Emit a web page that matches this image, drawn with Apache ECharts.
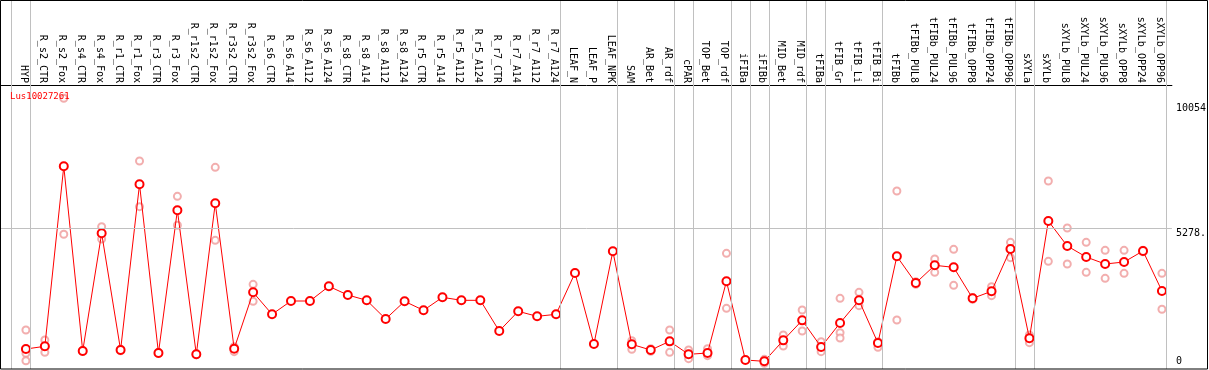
<!DOCTYPE html>
<html>
<head>
<meta charset="utf-8">
<script src="https://cdn.jsdelivr.net/npm/echarts@6/dist/echarts.min.js"></script>
<style>
html,body{margin:0;padding:0;background:#fff;}
#chart{width:1209px;height:370px;}
</style>
</head>
<body>
<div id="chart"></div>
<script>
const title = 'Lus10027261';
const categories = ['HYP','R_s2_CTR','R_s2_Fox','R_s4_CTR','R_s4_Fox','R_r1_CTR','R_r1_Fox','R_r3_CTR','R_r3_Fox','R_r1s2_CTR','R_r1s2_Fox','R_r3s2_CTR','R_r3s2_Fox','R_s6_CTR','R_s6_A14','R_s6_A112','R_s6_A124','R_s8_CTR','R_s8_A14','R_s8_A112','R_s8_A124','R_r5_CTR','R_r5_A14','R_r5_A112','R_r5_A124','R_r7_CTR','R_r7_A14','R_r7_A112','R_r7_A124','LEAF_N','LEAF_P','LEAF_NPK','SAM','AR_Bet','AR_rdf','cPAR','TOP_Bet','TOP_rdf','iFIBa','iFIBb','MID_Bet','MID_rdf','tFIBa','tFIB_Gr','tFIB_Li','tFIB_Bi','tFIBb','tFIBb_PUL8','tFIBb_PUL24','tFIBb_PUL96','tFIBb_OPP8','tFIBb_OPP24','tFIBb_OPP96','sXYLa','sXYLb','sXYLb_PUL8','sXYLb_PUL24','sXYLb_PUL96','sXYLb_OPP8','sXYLb_OPP24','sXYLb_OPP96'];
const means = [686,789,7648,610,5094,648,6962,534,5971,483,6238,699,2846,2008,2515,2515,3075,2744,2541,1829,2503,2160,2655,2541,2541,1372,2122,1931,2008,3582,877,4408,864,648,978,483,534,3265,267,216,1016,1778,762,1677,2541,915,4218,3201,3875,3799,2617,2884,4497,1093,5564,4611,4192,3925,4002,4421,2896];
const replicates = [[1410,522,240],[1029,560,780],[10240,5057],[630,590],[5348,4878],[680,620],[7851,6110],[560,510],[6505,5400],[500,465],[7610,4828],[775,584],[3151,2503],
[],[],[],[],[],[],[],[],[],[],[],[],[],[],[],[],[],[],[],
[1004,673],[700,600],[1410,560],[648,318],[699,432],[4332,2236],[],[292,140],[1220,800],[2172,1372],[965,584],[2617,1308,1105],[2846,2338],[965,750],
[6707,1791],[3150,3250],[4116,3608],[4485,3113],[2580,2650],[3062,2719],[4751,4167],[1220,927],[7088,4028],[5297,3925],[4751,3608],[4447,3380],[4447,3570],[4450,4390],[3570,2199]];
// group boundaries: a vertical line after each of these category indices
const groupEnds = [-1,0,28,31,34,35,37,38,39,41,42,45,52,53,60];
const yTickValues = [0, 5278, 10054];
const yTickLabels = ['0', '5278.', '10054'];
const refLine = 5278;

const font = 'DejaVu Sans Mono';
const chart = echarts.init(document.getElementById('chart'), null, {renderer:'canvas'});
const lineData = means.map((v,i)=>[i,v]);
const repData = [];
replicates.forEach((arr,i)=>arr.forEach(v=>repData.push([i,v])));
const labelPos = categories.map((c,i)=>i-0.13);
const yLabelPos = yTickValues.map(v => v === 0 ? 420 : v);

chart.setOption({
  animation:false,
  backgroundColor:'#fff',
  title:{text:title,left:10,top:92,padding:0,textStyle:{color:'#ff0000',fontFamily:font,fontSize:9,fontWeight:'normal'}},
  grid:{left:1,right:33,top:0,bottom:1,containLabel:false},
  xAxis:{type:'value',position:'top',offset:-85,min:-1.316,max:60.526,
    axisLine:{show:true,onZero:false,lineStyle:{color:'#000',width:1}},
    axisTick:{show:false},splitLine:{show:false},
    axisLabel:{customValues:labelPos,rotate:90,margin:2,color:'#000',fontFamily:font,fontSize:10,
      formatter:v=>categories[Math.round(v)]||''}},
  yAxis:{type:'value',position:'right',min:-76,max:13986,
    axisLine:{show:false},axisTick:{show:false},splitLine:{show:false},
    axisLabel:{customValues:yLabelPos,margin:4,align:'left',verticalAlign:'top',color:'#000',fontFamily:font,fontSize:10,
      formatter:v=>{let best=0;yLabelPos.forEach((p,k)=>{if(Math.abs(p-v)<Math.abs(yLabelPos[best]-v))best=k;});return yTickLabels[best];}}},
  series:[
    {type:'line',data:[],silent:true,
      markLine:{silent:true,symbol:['none','none'],label:{show:false},animation:false,
        lineStyle:{color:'#c0c0c0',width:1,type:'solid'},
        data:groupEnds.map(k=>({xAxis:k+0.24})).concat([{yAxis:refLine}])}},
    {type:'scatter',data:repData,symbol:'emptyCircle',symbolSize:7,z:2,
      itemStyle:{color:'#ef9a9a',borderColor:'#ef9a9a',borderWidth:1.2}},
    {type:'line',data:lineData,symbol:'emptyCircle',symbolSize:8,z:3,
      lineStyle:{color:'#ff0000',width:1},
      itemStyle:{color:'#ff0000',borderColor:'#ff0000',borderWidth:1.6}}
  ],
  graphic:[{type:'rect',shape:{x:0.5,y:0.5,width:1207,height:368.5},style:{fill:null,stroke:'#000',lineWidth:1},silent:true,z:100}]
});
</script>
</body>
</html>
